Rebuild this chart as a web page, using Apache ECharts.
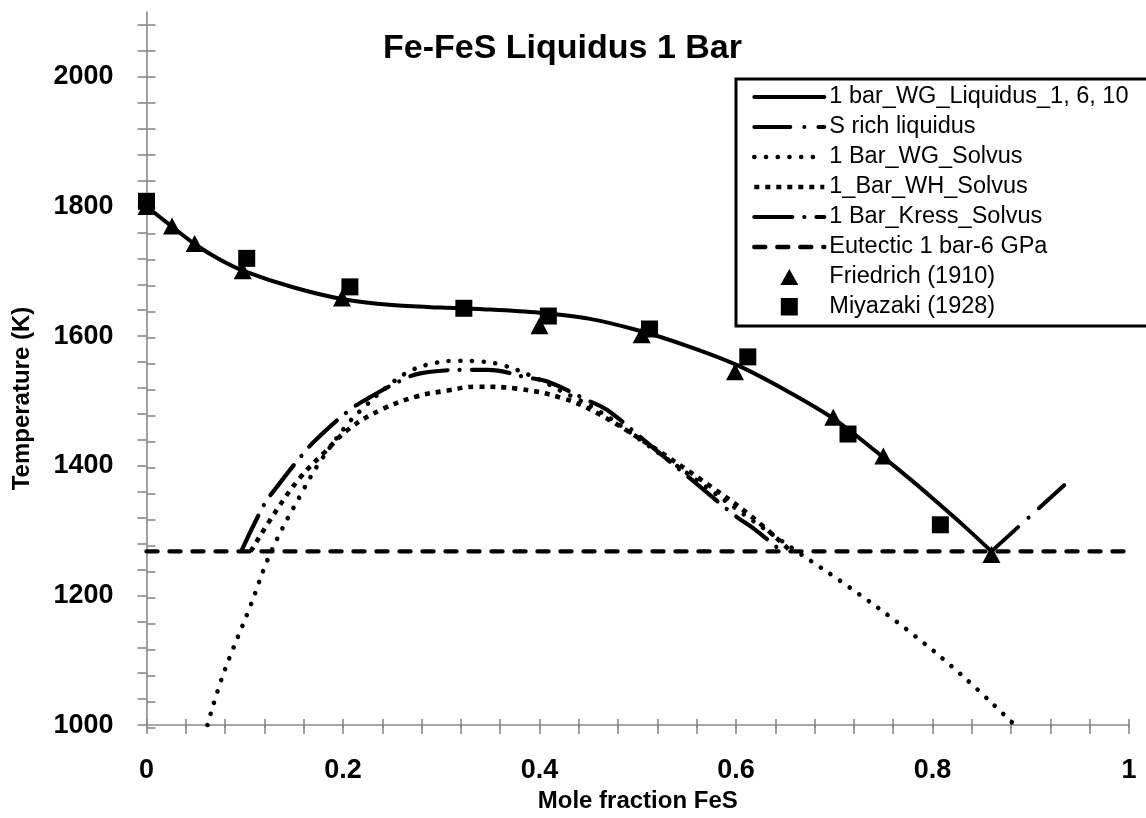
<!DOCTYPE html>
<html>
<head>
<meta charset="utf-8">
<script src="https://cdn.jsdelivr.net/npm/echarts@6/dist/echarts.min.js"></script>
<style>
  html, body { margin: 0; padding: 0; background: #fff; }
  #chart { width: 1146px; height: 818px; }
</style>
</head>
<body>
<div id="chart"></div>
<script>
// Fe-FeS liquidus at 1 bar: liquidus curve, solvus models, eutectic and experimental points.
const FONT = '"Liberation Sans", Arial, sans-serif';

// Mole fraction FeS / temperature (K) pairs for each curve
const liquidusX = [0, 0.025, 0.05, 0.075, 0.1, 0.15, 0.2, 0.25, 0.3, 0.35, 0.4, 0.45, 0.5, 0.55, 0.6, 0.65, 0.7, 0.75, 0.78, 0.8, 0.83, 0.86];
const liquidusT = [1800, 1770, 1741, 1718, 1700, 1675, 1657, 1648, 1644, 1641, 1636, 1627, 1609, 1585, 1556, 1517, 1472, 1413, 1376, 1350, 1310, 1268];

const sRichX = [0.86, 0.934];
const sRichT = [1268, 1370];

const wgSolvusX = [0.062, 0.078, 0.105, 0.127, 0.159, 0.177, 0.205, 0.222, 0.245, 0.268, 0.292, 0.316, 0.339, 0.363, 0.397, 0.42, 0.46, 0.51, 0.56, 0.61, 0.662, 0.715, 0.775, 0.829, 0.881];
const wgSolvusT = [1000, 1078, 1181, 1268, 1361, 1407, 1465, 1491, 1522, 1546, 1558, 1562, 1561, 1555, 1535, 1517, 1485, 1432, 1378, 1323, 1268, 1213, 1146, 1078, 1004];

const whSolvusX = [0.106, 0.133, 0.156, 0.18, 0.207, 0.241, 0.275, 0.306, 0.336, 0.377, 0.424, 0.459, 0.512, 0.563, 0.614, 0.656];
const whSolvusT = [1268, 1333, 1381, 1419, 1458, 1488, 1507, 1516, 1522, 1519, 1504, 1481, 1432, 1380, 1324, 1268];

const kressSolvusX = [0.097, 0.12, 0.132, 0.158, 0.173, 0.205, 0.222, 0.261, 0.28, 0.326, 0.347, 0.388, 0.408, 0.449, 0.469, 0.51, 0.56, 0.6, 0.619, 0.645];
const kressSolvusT = [1270, 1341, 1366, 1416, 1441, 1484, 1501, 1533, 1543, 1548, 1548, 1536, 1530, 1501, 1486, 1435, 1372, 1322, 1302, 1270];

const eutecticX = [0, 1];
const eutecticT = [1268, 1268];

// Experimental data
const friedrichX = [0, 0.026, 0.049, 0.098, 0.199, 0.4, 0.504, 0.599, 0.699, 0.75, 0.86];
const friedrichT = [1800, 1770, 1743, 1701, 1659, 1616, 1602, 1545, 1475, 1415, 1263];

const miyazakiX = [0, 0.102, 0.207, 0.323, 0.409, 0.512, 0.612, 0.714, 0.808];
const miyazakiT = [1808, 1720, 1676, 1643, 1631, 1611, 1568, 1449, 1309];

// Axis ticks and labels
const xLabelValues = [0, 0.2, 0.4, 0.6, 0.8, 1];
const yLabelValues = [1000, 1200, 1400, 1600, 1800, 2000];
const xMinorStep = 0.04;
const yMinorStep = 40;

function steps(start, stop, step) {
  const out = [];
  for (let v = start; v <= stop + step * 1e-6; v += step) out.push(Math.round(v * 1e6) / 1e6);
  return out;
}
const xTickValues = steps(0, 1, xMinorStep);
const yTickValues = steps(1000, 2080, yMinorStep);

function pairs(xs, ys) { return xs.map((x, i) => [x, ys[i]]); }

const AXIS_GREY = '#8a8a8a';
const gridRect = { left: 146.5, right: 17, top: 12, bottom: 90 };

function xAxisDef(gridIndex, inside) {
  return {
    type: 'value', gridIndex, min: 0, max: 1, position: 'bottom',
    axisLine: { show: !inside, lineStyle: { color: AXIS_GREY, width: 1.6 } },
    axisTick: { show: true, inside, length: 9, customValues: xTickValues, lineStyle: { color: AXIS_GREY, width: 1.6 } },
    axisLabel: inside ? { show: false } : {
      customValues: xLabelValues, margin: 32,
      formatter: v => (v === 0 || v === 1) ? String(v) : v.toFixed(1),
      fontFamily: FONT, fontSize: 27, fontWeight: 'bold', color: '#000'
    },
    splitLine: { show: false },
    name: inside ? '' : 'Mole fraction FeS',
    nameLocation: 'middle', nameGap: 58,
    nameTextStyle: { fontFamily: FONT, fontSize: 24, fontWeight: 'bold', color: '#000' }
  };
}

function yAxisDef(gridIndex, inside) {
  return {
    type: 'value', gridIndex, min: 1000, max: 2100, position: 'left',
    axisLine: { show: !inside, lineStyle: { color: AXIS_GREY, width: 1.6 } },
    axisTick: { show: true, inside, length: 9, customValues: yTickValues, lineStyle: { color: AXIS_GREY, width: 1.6 } },
    axisLabel: inside ? { show: false } : {
      customValues: yLabelValues, margin: 33,
      formatter: v => String(v),
      fontFamily: FONT, fontSize: 27, fontWeight: 'bold', color: '#000'
    },
    splitLine: { show: false },
    name: inside ? '' : 'Temperature (K)',
    nameLocation: 'middle', nameGap: 112,
    nameTextStyle: { fontFamily: FONT, fontSize: 24, fontWeight: 'bold', color: '#000', padding: [0, 60, 0, 0] }
  };
}

// Line appearance for each curve (used by both the series and its legend entry)
const styles = {
  liquidus: { width: 4, type: 'solid', cap: 'round' },
  sRich:    { width: 4, type: [36, 14, 0.1, 14], cap: 'round' },
  wg:       { width: 4.6, type: [0.1, 11.6], cap: 'round' },
  wh:       { width: 4.6, type: [5, 6], cap: 'butt' },
  kress:    { width: 4.2, type: [38, 12, 0.1, 12], cap: 'round' },
  eutectic: { width: 4.4, type: [11, 12], cap: 'round' }
};

// Legend marker shapes drawn centred in the 70 x 18 legend icon box
// (corner moveTo points fix the box so the shape keeps its proportions)
const legendTriangle = 'path://M0,0M70,18M35,1L44,17L26,17Z';
const legendSquare = 'path://M0,0M70,18M26.5,0L43.5,0L43.5,17.5L26.5,17.5Z';

function lineSeries(name, xs, ys, st, smooth) {
  return {
    name, type: 'line', xAxisIndex: 0, yAxisIndex: 0,
    data: pairs(xs, ys), symbol: 'none', smooth: smooth,
    itemStyle: { color: '#000' },
    lineStyle: Object.assign({ color: '#000' }, st),
    z: 2
  };
}

function legendLine(name, st) {
  return { name, itemStyle: { opacity: 0 }, lineStyle: Object.assign({ color: '#000' }, st) };
}

const chart = echarts.init(document.getElementById('chart'), null, { renderer: 'canvas' });

chart.setOption({
  animation: false,
  backgroundColor: '#fff',
  title: {
    text: 'Fe-FeS Liquidus 1 Bar',
    left: 383, top: 32, padding: 0,
    textStyle: { fontFamily: FONT, fontSize: 34, fontWeight: 'bold', color: '#000' }
  },
  grid: [Object.assign({}, gridRect), Object.assign({}, gridRect)],
  xAxis: [xAxisDef(0, false), xAxisDef(1, true)],
  yAxis: [yAxisDef(0, false), yAxisDef(1, true)],
  legend: {
    orient: 'vertical', left: 736, top: 79,
    itemWidth: 70, itemHeight: 18, itemGap: 6,
    padding: [6, 40, 7, 16],
    borderColor: '#000', borderWidth: 3, backgroundColor: '#fff',
    textStyle: { fontFamily: FONT, fontSize: 23.5, color: '#000', lineHeight: 24 },
    data: [
      legendLine('1 bar_WG_Liquidus_1, 6, 10', styles.liquidus),
      legendLine('S rich liquidus', styles.sRich),
      legendLine('1 Bar_WG_Solvus', styles.wg),
      legendLine('1_Bar_WH_Solvus', styles.wh),
      legendLine('1 Bar_Kress_Solvus', styles.kress),
      legendLine('Eutectic 1 bar-6 GPa', styles.eutectic),
      { name: 'Friedrich (1910)', icon: legendTriangle, itemStyle: { color: '#000', opacity: 1 } },
      { name: 'Miyazaki (1928)', icon: legendSquare, itemStyle: { color: '#000', opacity: 1 } }
    ]
  },
  series: [
    lineSeries('1 bar_WG_Liquidus_1, 6, 10', liquidusX, liquidusT, styles.liquidus, 0.3),
    lineSeries('S rich liquidus', sRichX, sRichT, styles.sRich, false),
    lineSeries('1 Bar_WG_Solvus', wgSolvusX, wgSolvusT, styles.wg, 0.4),
    lineSeries('1_Bar_WH_Solvus', whSolvusX, whSolvusT, styles.wh, 0.4),
    lineSeries('1 Bar_Kress_Solvus', kressSolvusX, kressSolvusT, styles.kress, 0.4),
    lineSeries('Eutectic 1 bar-6 GPa', eutecticX, eutecticT, styles.eutectic, false),
    {
      name: 'Friedrich (1910)', type: 'scatter', xAxisIndex: 0, yAxisIndex: 0,
      data: pairs(friedrichX, friedrichT),
      symbol: 'triangle', symbolSize: [18, 17],
      itemStyle: { color: '#000', opacity: 1 }, z: 4
    },
    {
      name: 'Miyazaki (1928)', type: 'scatter', xAxisIndex: 0, yAxisIndex: 0,
      data: pairs(miyazakiX, miyazakiT),
      symbol: 'rect', symbolSize: 17,
      itemStyle: { color: '#000', opacity: 1 }, z: 5
    }
  ]
});
</script>
</body>
</html>
